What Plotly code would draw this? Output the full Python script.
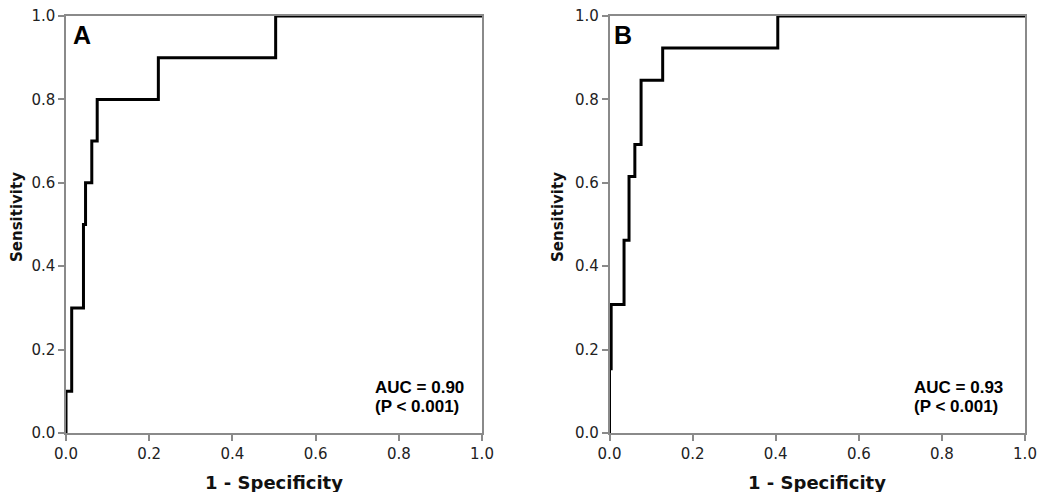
import plotly.graph_objects as go

# ROC points (1 - specificity, sensitivity)
fpr_a = [0.0, 0.0, 0.0137, 0.042, 0.047, 0.062, 0.075, 0.222, 0.504, 1.0]
tpr_a = [0.0, 0.1, 0.3, 0.5, 0.6, 0.7, 0.8, 0.9, 1.0, 1.0]

fpr_b = [0.0, 0.0, 0.004, 0.035, 0.047, 0.061, 0.076, 0.128, 0.405, 1.0]
tpr_b = [0.0, 0.154, 0.308, 0.462, 0.615, 0.692, 0.846, 0.923, 1.0, 1.0]

panel_labels = ["A", "B"]
auc_labels = ["AUC = 0.90", "AUC = 0.93"]
p_labels = ["(P < 0.001)", "(P < 0.001)"]
tick_vals = [0.0, 0.2, 0.4, 0.6, 0.8, 1.0]
tick_text = ["0.0", "0.2", "0.4", "0.6", "0.8", "1.0"]

# page has an 8px body margin; work in reference pixel coords minus 8
OFF = 8
W, H = 1050 - 2 * OFF, 500 - 2 * OFF


def px(x):
    return (x - OFF) / W


def py(y):
    return 1 - (y - OFF) / H


dom_a = [px(66), px(482)]
dom_b = [px(609.5), px(1025)]
dom_y = [py(433), py(16)]

fig = go.Figure()
line_style = dict(color="black", width=3, shape="hv")
fig.add_trace(go.Scatter(x=fpr_a, y=tpr_a, mode="lines", line=line_style,
                         xaxis="x", yaxis="y", showlegend=False, hoverinfo="skip"))
fig.add_trace(go.Scatter(x=fpr_b, y=tpr_b, mode="lines", line=line_style,
                         xaxis="x2", yaxis="y2", showlegend=False, hoverinfo="skip"))

axis_common = dict(
    range=[0, 1], tickvals=tick_vals, ticktext=tick_text,
    showgrid=False, zeroline=False, showline=True, mirror=True,
    linecolor="#8a8a8a", linewidth=1.5, ticks="outside", ticklen=6,
    tickwidth=1.5, tickcolor="#8a8a8a",
    tickfont=dict(family="DejaVu Sans", size=15, color="#222222"),
    ticklabeloverflow="allow",
    fixedrange=True, automargin=False,
)

fig.update_layout(
    width=W, height=H,
    margin=dict(l=0, r=0, t=0, b=0, autoexpand=False),
    paper_bgcolor="white", plot_bgcolor="white",
    xaxis=dict(domain=dom_a, anchor="y", **axis_common),
    yaxis=dict(domain=dom_y, anchor="x", **axis_common),
    xaxis2=dict(domain=dom_b, anchor="y2", **axis_common),
    yaxis2=dict(domain=dom_y, anchor="x2", **axis_common),
)

annotations = []
title_font_x = dict(family="DejaVu Sans", size=18, color="#111111")
title_font_y = dict(family="DejaVu Sans", size=15, color="#111111")
for i, (dom, xr, yr, ytx) in enumerate([(dom_a, "x", "y", 17), (dom_b, "x2", "y2", 558)]):
    # x axis title
    annotations.append(dict(text="<b>1 - Specificity</b>", xref="paper", yref="paper",
                            x=(dom[0] + dom[1]) / 2, y=py(482), showarrow=False,
                            xanchor="center", yanchor="middle", font=title_font_x))
    # y axis title
    annotations.append(dict(text="<b>Sensitivity</b>", xref="paper", yref="paper",
                            x=px(ytx), y=py(217), showarrow=False,
                            textangle=-90, xanchor="center", yanchor="middle",
                            font=title_font_y))
    # panel letter
    annotations.append(dict(text="<b>%s</b>" % panel_labels[i], xref=xr, yref=yr,
                            x=[0.011, 0.007][i], y=0.954, showarrow=False,
                            xanchor="left", yanchor="middle",
                            font=dict(family="Liberation Sans", size=25, color="black")))
    # AUC text
    ax = [0.738, 0.727][i]
    annotations.append(dict(text="<b>%s</b>" % auc_labels[i], xref=xr, yref=yr,
                            x=ax, y=(433 - 387) / 417, showarrow=False,
                            xanchor="left", yanchor="middle",
                            font=dict(family="Liberation Sans", size=17, color="black")))
    annotations.append(dict(text="<b>%s</b>" % p_labels[i], xref=xr, yref=yr,
                            x=ax, y=(433 - 406) / 417, showarrow=False,
                            xanchor="left", yanchor="middle",
                            font=dict(family="Liberation Sans", size=17, color="black")))

fig.update_layout(annotations=annotations)
fig.write_html("out.html")
